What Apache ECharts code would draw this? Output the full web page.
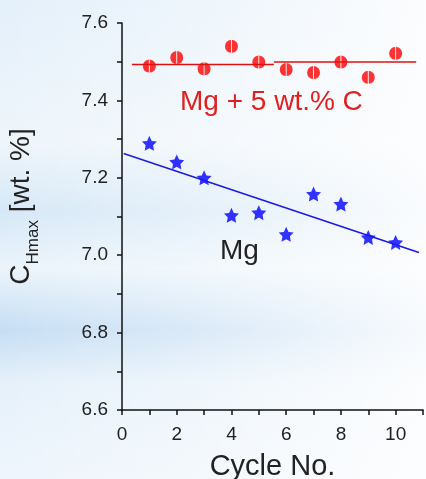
<!DOCTYPE html>
<html>
<head>
<meta charset="utf-8">
<script src="https://cdn.jsdelivr.net/npm/echarts@6/dist/echarts.min.js"></script>
<style>
  html, body { margin: 0; padding: 0; }
  body {
    width: 426px; height: 479px; overflow: hidden;
    background:
      linear-gradient(to right, rgba(255,255,255,0) 0%, rgba(255,255,255,0.35) 45%, rgba(255,255,255,0.85) 100%),
      linear-gradient(to bottom, #e4f0fa 0%, #eef5fb 30%, #d6e8f7 44%, #ebf4fb 56%, #c6def4 69%, #e6f1fa 80%, #eef5fc 100%);
  }
  #myChart { width: 426px; height: 479px; }
</style>
</head>
<body>
<div id="myChart"></div>
<script>
  // Mg + 5 wt.% C vs Mg, hydrogen capacity per cycle
  var cycles = [1, 2, 3, 4, 5, 6, 7, 8, 9, 10];
  var mgC = [7.489, 7.511, 7.482, 7.540, 7.499, 7.480, 7.472, 7.499, 7.460, 7.522];
  var mg = [7.289, 7.241, 7.200, 7.103, 7.110, 7.054, 7.158, 7.132, 7.046, 7.033];
  // fitted lines
  var mgCFitA = [[0.36, 7.493], [5.55, 7.493]];
  var mgCFitB = [[5.55, 7.499], [10.75, 7.499]];
  var mgFit = [[0.06, 7.263], [10.85, 7.007]];

  var starPath = 'path://M10,0 L12.94,6.18 L19.51,6.91 L14.76,11.46 L15.88,18.09 L10,14.9 L4.12,18.09 L5.24,11.46 L0.49,6.91 L7.06,6.18 Z';
  var dotPath = 'path://M9.3,0.03 A10,10 0 0 0 9.3,19.97 Z M10.7,0.03 A10,10 0 0 1 10.7,19.97 Z';

  function pairs(xs, ys) {
    return xs.map(function (x, i) { return [x, ys[i]]; });
  }

  var myChart = echarts.init(document.getElementById('myChart'));
  var axisCol = '#111';
  var option = {
    backgroundColor: 'transparent',
    animation: false,
    grid: { left: 122, top: 23, right: 3, bottom: 69, containLabel: false, outerBoundsMode: 'none' },
    xAxis: {
      type: 'value', min: 0, max: 11, interval: 1,
      name: 'Cycle No.', nameLocation: 'middle', nameGap: 42,
      nameTextStyle: { fontFamily: 'Liberation Sans', fontSize: 29, color: '#222' },
      axisLine: { lineStyle: { color: axisCol, width: 1.5 } },
      axisTick: { length: 5, lineStyle: { color: axisCol, width: 1.5 } },
      splitLine: { show: false },
      axisLabel: {
        fontFamily: 'Liberation Sans', fontSize: 19, color: '#222', margin: 15,
        formatter: function (v) { return v % 2 === 0 ? String(v) : ''; }
      }
    },
    yAxis: {
      type: 'value', min: 6.6, max: 7.6, interval: 0.1,
      name: '{c|C}{s|Hmax}{t| [wt. %]}', nameLocation: 'middle', nameGap: 80, nameRotate: 90,
      nameTextStyle: {
        padding: [0, 0, 0, 20],
        rich: {
          c: { fontFamily: 'Liberation Sans', fontSize: 28, color: '#222', verticalAlign: 'bottom', padding: [0, 0, 7, 0] },
          s: { fontFamily: 'Liberation Sans', fontSize: 17, color: '#222', verticalAlign: 'bottom' },
          t: { fontFamily: 'Liberation Sans', fontSize: 28, color: '#222', verticalAlign: 'bottom', padding: [0, 0, 7, 0] }
        }
      },
      axisLine: { show: true, lineStyle: { color: axisCol, width: 1.5 } },
      axisTick: { length: 5, lineStyle: { color: axisCol, width: 1.5 } },
      splitLine: { show: false },
      axisLabel: {
        fontFamily: 'Liberation Sans', fontSize: 19, color: '#222', margin: 14,
        formatter: function (v) { return Math.round(v * 10) % 2 === 0 ? v.toFixed(1) : ''; }
      }
    },
    graphic: [
      { type: 'text', left: 180, top: 88,
        style: { text: 'Mg + 5 wt.% C', fontFamily: 'Liberation Sans', fontSize: 28, fill: '#e02020' } },
      { type: 'text', left: 220, top: 237,
        style: { text: 'Mg', fontFamily: 'Liberation Sans', fontSize: 28, fill: '#222' } }
    ],
    series: [
      { type: 'line', data: mgCFitA, showSymbol: false, lineStyle: { color: '#e01010', width: 1.5 } },
      { type: 'line', data: mgCFitB, showSymbol: false, lineStyle: { color: '#e01010', width: 1.5 } },
      { type: 'line', data: mgFit, showSymbol: false, lineStyle: { color: '#1a1ae0', width: 1.5 } },
      { name: 'Mg + 5 wt.% C', type: 'scatter', data: pairs(cycles, mgC),
        symbol: dotPath, symbolSize: 13, itemStyle: { color: '#ff0000' } },
      { name: 'Mg', type: 'scatter', data: pairs(cycles, mg),
        symbol: starPath, symbolSize: 15, itemStyle: { color: '#0000ff' } }
    ]
  };
  myChart.setOption(option);
</script>
</body>
</html>
